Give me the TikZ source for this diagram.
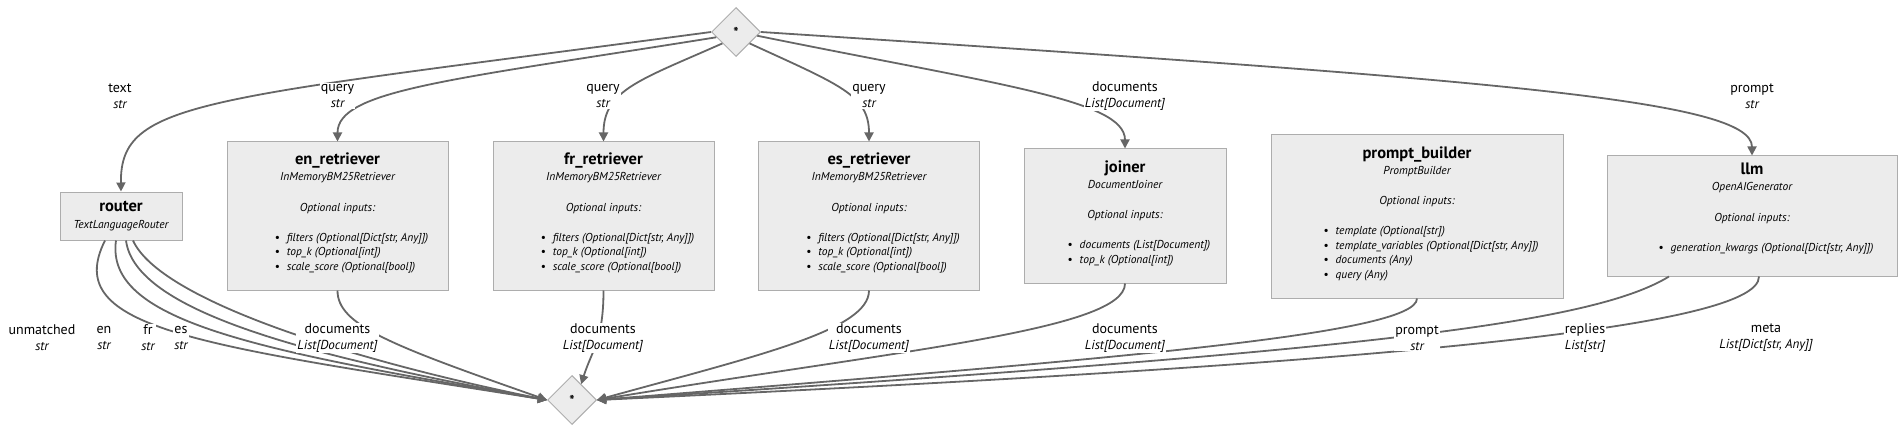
\documentclass[tikz,border=0pt]{standalone}
\usepackage{fontspec}
\usepackage{array}
\setmainfont{PT Sans}
\usetikzlibrary{shapes.geometric,arrows.meta}
\definecolor{boxgray}{HTML}{ECECEC}
\definecolor{boxline}{HTML}{ADADAD}
\definecolor{edgegray}{HTML}{666666}
\newcolumntype{B}{@{\hspace{28pt}\makebox[12pt][l]{\textbullet}}>{\itshape}l@{}}

\begin{document}
\begin{tikzpicture}[x=1pt,y=-1pt,
	comp/.style={rectangle, draw=boxline, fill=boxgray, line width=1pt, align=center, inner sep=0pt, font=\fontsize{11.5}{14.5}\selectfont},
	joint/.style={diamond, draw=boxline, fill=boxgray, line width=1pt, minimum width=49, minimum height=49, inner sep=0pt, font=\fontsize{14}{14}\selectfont\bfseries},
	flow/.style={draw=edgegray, line width=1.8pt, -{Triangle[length=9pt,width=9pt]}},
	lbl/.style={fill=white, inner sep=1pt, align=center, font=\fontsize{14}{17}\selectfont}]
		\useasboundingbox (0,0) rectangle (1904,433);

		\node (src) [joint] at (736,32) {*};
		\node (sink) [joint] at (572,400) {*};

		\node (router) [comp, minimum width=122, minimum height=48] at (121,216) {{\fontsize{16.5}{18}\selectfont\bfseries router}\\[2pt]{\itshape TextLanguageRouter}};
		\node (enret) [comp, minimum width=221, minimum height=148] at (337.5,216) {{\fontsize{16.5}{18}\selectfont\bfseries en\_retriever}\\[1.5pt]{\itshape InMemoryBM25Retriever}\\[16pt]{\itshape Optional inputs:}\\[15.5pt]\begin{tabular}[t]{B}filters (Optional[Dict[str, Any]])\\top\_k (Optional[int])\\scale\_score (Optional[bool])\end{tabular}\\[3pt]\mbox{}};
		\node (frret) [comp, minimum width=221, minimum height=148] at (603.5,216) {{\fontsize{16.5}{18}\selectfont\bfseries fr\_retriever}\\[1.5pt]{\itshape InMemoryBM25Retriever}\\[16pt]{\itshape Optional inputs:}\\[15.5pt]\begin{tabular}[t]{B}filters (Optional[Dict[str, Any]])\\top\_k (Optional[int])\\scale\_score (Optional[bool])\end{tabular}\\[3pt]\mbox{}};
		\node (esret) [comp, minimum width=221, minimum height=148] at (869,216) {{\fontsize{16.5}{18}\selectfont\bfseries es\_retriever}\\[1.5pt]{\itshape InMemoryBM25Retriever}\\[16pt]{\itshape Optional inputs:}\\[15.5pt]\begin{tabular}[t]{B}filters (Optional[Dict[str, Any]])\\top\_k (Optional[int])\\scale\_score (Optional[bool])\end{tabular}\\[3pt]\mbox{}};
		\node (joiner) [comp, minimum width=202, minimum height=134] at (1125,216) {{\fontsize{16.5}{18}\selectfont\bfseries joiner}\\[1.5pt]{\itshape DocumentJoiner}\\[16pt]{\itshape Optional inputs:}\\[15.5pt]\begin{tabular}[t]{B}documents (List[Document])\\top\_k (Optional[int])\end{tabular}\\[3pt]\mbox{}};
		\node (promptb) [comp, minimum width=292, minimum height=163] at (1417,216.5) {{\fontsize{16.5}{18}\selectfont\bfseries prompt\_builder}\\[1.5pt]{\itshape PromptBuilder}\\[16pt]{\itshape Optional inputs:}\\[15.5pt]\begin{tabular}[t]{B}template (Optional[str])\\template\_variables (Optional[Dict[str, Any]])\\documents (Any)\\query (Any)\end{tabular}\\[3pt]\mbox{}};
		\node (llm) [comp, minimum width=290, minimum height=120] at (1752,216) {{\fontsize{16.5}{18}\selectfont\bfseries llm}\\[1.5pt]{\itshape OpenAIGenerator}\\[16pt]{\itshape Optional inputs:}\\[15.5pt]\begin{tabular}[t]{B}generation\_kwargs (Optional[Dict[str, Any]])\end{tabular}\\[3pt]\mbox{}};

		\draw[flow] (src.180) .. controls (200,100) and (120,100) .. (router.north);
		\draw[flow] (src.195) .. controls (450,80) and (337.5,90) .. (enret.north);
		\draw[flow] (src.220) .. controls (640,80) and (603.5,90) .. (frret.north);
		\draw[flow] (src.320) .. controls (840,85) and (869,95) .. (esret.north);
		\draw[flow] (src.350) .. controls (1000,85) and (1125,100) .. (joiner.north);
		\draw[flow] (src.0) .. controls (1500,80) and (1752,100) .. (llm.north);

		\draw[flow] ([xshift=-16]router.south) .. controls (60,330) and (200,345) .. (sink.west);
		\draw[flow] ([xshift=-5]router.south) .. controls (105,320) and (250,350) .. (sink.west);
		\draw[flow] ([xshift=5]router.south) .. controls (135,310) and (300,355) .. (sink.west);
		\draw[flow] ([xshift=12]router.south) .. controls (160,300) and (350,360) .. (sink.west);
		\draw[flow] (enret.south) .. controls (337.5,325) and (390,345) .. (sink.west);
		\draw[flow] (frret.south) .. controls (603.5,340) and (592,350) .. (sink.60);
		\draw[flow] (esret.south) .. controls (869,330) and (760,355) .. (sink.east);
		\draw[flow] (joiner.south) .. controls (1125,330) and (900,350) .. (sink.east);
		\draw[flow] (promptb.south) .. controls (1417,335) and (1100,360) .. (sink.east);
		\draw[flow] ([xshift=-83]llm.south) .. controls (1590,325) and (1350,352) .. (sink.east);
		\draw[flow] ([xshift=7]llm.south) .. controls (1760,330) and (1350,365) .. (sink.east);

		\node (ltext) [lbl] at (120,96) {text\\[-1pt]{\fontsize{13}{15}\selectfont\itshape str}};
		\node (lqen) [lbl] at (337.5,96) {query\\[-1pt]{\fontsize{13}{15}\selectfont\itshape str}};
		\node (lqfr) [lbl] at (603,96) {query\\[-1pt]{\fontsize{13}{15}\selectfont\itshape str}};
		\node (lqes) [lbl] at (869,96) {query\\[-1pt]{\fontsize{13}{15}\selectfont\itshape str}};
		\node (ldocin) [lbl] at (1125,96) {documents\\[-1pt]{\fontsize{13}{15}\selectfont\itshape List[Document]}};
		\node (lprompt) [lbl] at (1752,96) {prompt\\[-1pt]{\fontsize{13}{15}\selectfont\itshape str}};

		\node (lunm) [lbl] at (42,338) {unmatched\\[-1pt]{\fontsize{13}{15}\selectfont\itshape str}};
		\node (len) [lbl] at (104,338) {en\\[-1pt]{\fontsize{13}{15}\selectfont\itshape str}};
		\node (lfr) [lbl] at (148,338) {fr\\[-1pt]{\fontsize{13}{15}\selectfont\itshape str}};
		\node (les) [lbl] at (181,338) {es\\[-1pt]{\fontsize{13}{15}\selectfont\itshape str}};
		\node (ldocen) [lbl] at (337.5,338) {documents\\[-1pt]{\fontsize{13}{15}\selectfont\itshape List[Document]}};
		\node (ldocfr) [lbl] at (603,338) {documents\\[-1pt]{\fontsize{13}{15}\selectfont\itshape List[Document]}};
		\node (ldoces) [lbl] at (869,338) {documents\\[-1pt]{\fontsize{13}{15}\selectfont\itshape List[Document]}};
		\node (ldocjn) [lbl] at (1125,338) {documents\\[-1pt]{\fontsize{13}{15}\selectfont\itshape List[Document]}};
		\node (lpout) [lbl] at (1417,338) {prompt\\[-1pt]{\fontsize{13}{15}\selectfont\itshape str}};
		\node (lrepl) [lbl] at (1585,338) {replies\\[-1pt]{\fontsize{13}{15}\selectfont\itshape List[str]}};
		\node (lmeta) [lbl] at (1766,338) {meta\\[-1pt]{\fontsize{13}{15}\selectfont\itshape List[Dict[str, Any]]}};
	\end{tikzpicture}
\end{document}
